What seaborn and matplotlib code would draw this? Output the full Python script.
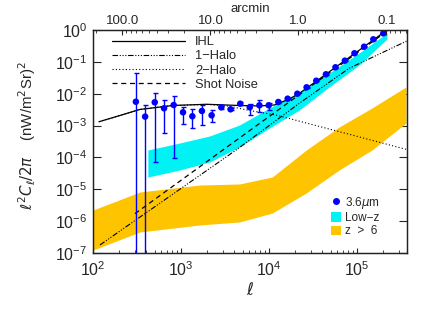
import numpy as np
import pandas as pd
import matplotlib
matplotlib.use("Agg")
import matplotlib.pyplot as plt
import seaborn as sns
from matplotlib.lines import Line2D
from matplotlib.patches import Patch
from matplotlib.ticker import FixedLocator, FixedFormatter, LogLocator, NullLocator, NullFormatter

# ---------------- data ----------------
ell_pts = [307, 391, 503, 642, 826, 1054, 1346, 1729, 2228, 2870, 3656, 4711, 6043, 7780,
           9930, 12770, 16290, 20990, 26740, 34430, 44350, 56910, 72740, 93540, 120300,
           153300, 199000]
cl_pts = [5.6e-3, 1.91e-3, 5.38e-3, 3.49e-3, 4.42e-3, 2.61e-3, 1.96e-3, 2.87e-3, 2.1e-3,
          3.75e-3, 3.24e-3, 4.86e-3, 3.75e-3, 4.33e-3, 4.33e-3, 5.5e-3, 6.98e-3, 1.0e-2,
          1.59e-2, 2.56e-2, 4.07e-2, 6.75e-2, 0.109, 0.186, 0.299, 0.51, 0.787]
cl_hi = [4.4e-2, 4.4e-3, 1.03e-2, 6.35e-3, 8.67e-3, 3.75e-3, 3.24e-3, 4.33e-3, 3.0e-3,
         4.1e-3, 3.5e-3, 5.3e-3, 4.75e-3, 6.35e-3, 5.2e-3, 5.8e-3, 7.3e-3, 1.04e-2,
         1.65e-2, 2.65e-2, 4.2e-2, 6.95e-2, 0.112, 0.191, 0.307, 0.524, 0.81]
cl_lo = [1e-9, 1e-9, 7.3e-5, 5.98e-4, 9.8e-5, 1.12e-3, 8.2e-4, 1.04e-3, 1.34e-3,
         3.4e-3, 3.0e-3, 4.4e-3, 2.15e-3, 2.73e-3, 3.08e-3, 5.2e-3, 6.7e-3, 0.96e-2,
         1.53e-2, 2.47e-2, 3.94e-2, 6.55e-2, 0.106, 0.181, 0.291, 0.496, 0.765]

ihl_ell = [117, 202, 340, 805, 1954, 4624, 7780, 11510, 17020, 22080, 37240, 62660, 105700, 219300]
ihl_cl = [1.32e-3, 2.07e-3, 3.2e-3, 4.27e-3, 4.66e-3, 4.27e-3, 4.12e-3, 4.43e-3, 6.82e-3,
          1.02e-2, 2.88e-2, 8.15e-2, 0.231, 1.0]

halo1_ell = [120, 4236, 22080, 81470, 369000]
halo1_cl = [1.79e-7, 1.71e-4, 5.0e-3, 6.28e-2, 0.452]

halo2_ell = [117, 202, 340, 805, 1954, 3500, 6000, 12000, 30000, 100000, 360000]
halo2_cl = [1.32e-3, 2.07e-3, 3.2e-3, 4.27e-3, 4.6e-3, 4.1e-3, 2.97e-3, 2.15e-3, 1.1e-3, 4.6e-4, 1.8e-4]

shot_ell = [300, 370000]
shot_cl = [1.72e-6, 2.61]

lowz_ell = [420, 966, 2113, 4624, 10100, 22100, 48300, 105700, 219000]
lowz_hi = [1.71e-4, 2.84e-4, 4.71e-4, 1.04e-3, 3.56e-3, 1.13e-2, 4.47e-2, 0.190, 0.806]
lowz_lo = [2.43e-5, 4.03e-5, 7.19e-5, 2.13e-4, 8.39e-4, 3.08e-3, 1.63e-2, 7.97e-2, 0.522]

hiz_ell = [100, 340, 1629, 4624, 10900, 26500, 62700, 148000, 360000]
hiz_hi = [2.24e-6, 8.2e-6, 1.36e-5, 1.47e-5, 2.43e-5, 1.71e-4, 9.02e-4, 3.56e-3, 1.63e-2]
hiz_lo = [1.24e-7, 4.57e-7, 7.58e-7, 9.42e-7, 1.80e-6, 7.66e-6, 4.03e-5, 1.71e-4, 1.2e-3]

arcmin_ticks = [100, 10, 1, 0.1]
arcmin_labels = ["100.0", "10.0", "1.0", "0.1"]

# ---------------- style ----------------
sns.set_style("ticks")
plt.rcParams["font.family"] = ["Liberation Sans", "DejaVu Sans"]
plt.rcParams["mathtext.fontset"] = "dejavusans"

BLUE = "#0000FF"
CYAN = "#00F2F5"
GOLD = "#FFC400"

fig = plt.figure(figsize=(4.36, 3.12), dpi=100)
ax = fig.add_axes([93 / 436, 1 - 253 / 312, 314 / 436, 223 / 312])
ax.set_xscale("log")
ax.set_yscale("log")
XMIN, XMAX = 100, 3.7e5
ax.set_xlim(XMIN, XMAX)
ax.set_ylim(1e-7, 1)

# bands
ax.fill_between(hiz_ell, hiz_lo, hiz_hi, color=GOLD, lw=0, zorder=1)
ax.fill_between(lowz_ell, lowz_lo, lowz_hi, color=CYAN, lw=0, zorder=1)

# model lines
sns.lineplot(x=halo2_ell, y=halo2_cl, ax=ax, color="k", lw=0.8,
             linestyle=(0, (1, 2)), sort=False, estimator=None, zorder=2)
sns.lineplot(x=halo1_ell, y=halo1_cl, ax=ax, color="k", lw=0.8,
             linestyle=(0, (5, 1.5, 1, 1.5, 1, 1.5, 1, 1.5)), sort=False, estimator=None, zorder=2)
sns.lineplot(x=shot_ell, y=shot_cl, ax=ax, color="k", lw=0.9,
             linestyle=(0, (4, 3)), sort=False, estimator=None, zorder=2)
sns.lineplot(x=ihl_ell, y=ihl_cl, ax=ax, color="k", lw=0.9,
             sort=False, estimator=None, zorder=3)

# data points
ell_a = np.array(ell_pts)
cl_a = np.array(cl_pts)
yerr = [cl_a - np.array(cl_lo), np.array(cl_hi) - cl_a]
ax.errorbar(ell_a, cl_a, yerr=yerr, fmt="none", ecolor=BLUE, elinewidth=1.0,
            capsize=1.8, capthick=1.0, zorder=4)
sns.scatterplot(x=ell_pts, y=cl_pts, ax=ax, color=BLUE, s=22, edgecolor="none",
                linewidth=0, zorder=5)

# axes styling
for sp in ax.spines.values():
    sp.set_linewidth(0.9)
    sp.set_color("#222222")
ax.xaxis.set_major_locator(LogLocator(base=10, numticks=10))
ax.xaxis.set_minor_locator(LogLocator(base=10, subs=np.arange(2, 10), numticks=20))
ax.xaxis.set_minor_formatter(NullFormatter())
ax.yaxis.set_major_locator(LogLocator(base=10, numticks=12))
ax.yaxis.set_minor_locator(NullLocator())
ax.tick_params(axis="x", which="major", direction="in", length=3.5, width=0.8,
               labelsize=11.5, pad=5, top=False, bottom=True)
ax.tick_params(axis="x", which="minor", direction="in", length=2, width=0.6,
               top=False, bottom=True)
ax.tick_params(axis="y", which="major", direction="in", length=5.5, width=0.8,
               labelsize=11.5, pad=4, left=True, right=True)

ax.set_xlabel(r"$\ell$", fontsize=12, labelpad=2)
ax.set_ylabel(r"$\ell^2C_\ell/2\pi$    (nW/m$^2$Sr)$^2$", fontsize=10.8)
ax.yaxis.set_label_coords(-0.175, 0.525)

# top arcmin axis
ax2 = ax.twiny()
ax2.set_xscale("log")
ax2.set_xlim(21600 / XMIN, 21600 / XMAX)
ax2.xaxis.set_major_locator(FixedLocator(arcmin_ticks))
ax2.xaxis.set_major_formatter(FixedFormatter(arcmin_labels))
ax2.xaxis.set_minor_locator(LogLocator(base=10, subs=np.arange(2, 10), numticks=20))
ax2.xaxis.set_minor_formatter(NullFormatter())
ax2.tick_params(axis="x", which="major", direction="in", length=3.5, width=0.8,
                labelsize=9.5, pad=2, )
ax2.tick_params(axis="x", which="minor", direction="in", length=2, width=0.6)
ax2.set_xlabel("arcmin", fontsize=9.5, labelpad=2)
for sp in ax2.spines.values():
    sp.set_linewidth(0.9)
    sp.set_color("#222222")

# legends
h1 = [Line2D([], [], color="k", lw=0.9),
      Line2D([], [], color="k", lw=0.8, linestyle=(0, (5, 1.5, 1, 1.5, 1, 1.5, 1, 1.5))),
      Line2D([], [], color="k", lw=0.8, linestyle=(0, (1, 2))),
      Line2D([], [], color="k", lw=0.9, linestyle=(0, (4, 3)))]
l1 = ["IHL", "1\u2212Halo", "2\u2212Halo", "Shot Noise"]
leg1 = ax.legend(h1, l1, loc="upper left", bbox_to_anchor=(0.062, 0.972), frameon=False,
                 fontsize=9.3, handlelength=5.6, handletextpad=0.8, labelspacing=0.16,
                 borderpad=0, borderaxespad=0)
ax.add_artist(leg1)

h2 = [Line2D([], [], color=BLUE, marker="o", markersize=4, lw=0),
      Patch(facecolor=CYAN, edgecolor="none"),
      Patch(facecolor=GOLD, edgecolor="none")]
l2 = [r"3.6$\mu$m", "Low\u2212z", "z  >  6"]
ax.legend(h2, l2, loc="upper left", bbox_to_anchor=(0.758, 0.262), frameon=False,
          fontsize=8.5, handlelength=0.85, handleheight=0.85, handletextpad=0.3,
          labelspacing=0.12, borderpad=0, borderaxespad=0)

fig.savefig("out.png", dpi=100)
